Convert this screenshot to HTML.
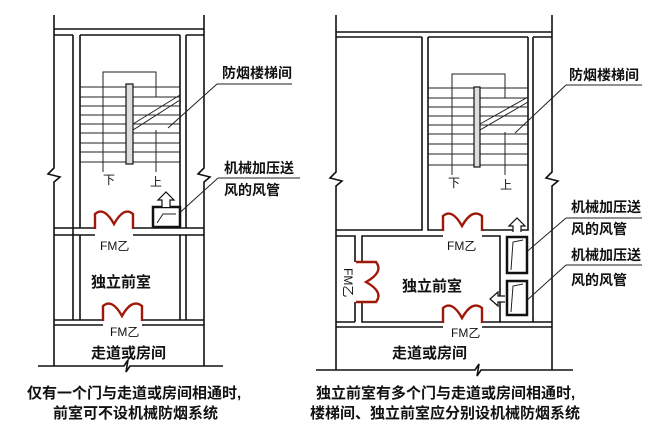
<!DOCTYPE html>
<html><head><meta charset="utf-8"><style>
html,body{margin:0;padding:0;background:#fff;}
svg{display:block}
text{font-family:"Liberation Sans","Noto Sans CJK SC",sans-serif;fill:#111;font-weight:bold}
text.n{font-weight:normal}
.l{stroke:#111;stroke-width:1.6;fill:none}
.t{stroke:#222;stroke-width:1;fill:none}
.d{stroke:#a01808;stroke-width:2.4;fill:none}
</style></head><body>
<svg width="659" height="440" viewBox="0 0 659 440" xmlns="http://www.w3.org/2000/svg">
<!-- LEFT PANEL -->
<g class="l">
<path d="M54,15 V168 l-6,6 l12,3 l-6,5 V366"/>
<path d="M204,15 V168 l-6,6 l12,3 l-6,5 V366"/>
<path d="M54,29 H204 M54,35 H73 M80,35 H180 M186,35 H204"/>
<path d="M73,35 V320 M80,35 V228 M80,235 V320 M180,35 V228 M180,235 V320 M186,35 V228 M186,235 V320"/>
<path d="M54,228 H95 M133,228 H204 M54,235 H95 M133,235 H204"/>
<path d="M54,320 H103 M142,320 H204 M54,325 H103 M142,325 H204"/>
<path d="M38,366 H124 l4,-6 l-2,12 l4,-6 H223"/>
</g>
<g class="t">
<path d="M80,87H180M80,97H180M80,106H180M80,115H180M80,124H180M80,133H180M80,143H180M80,152H180M80,162H180"/>
<path d="M103,172 V72 H156 V97 M156,130 V172"/>
<path d="M133,130 L180,100 M133,124 L180,95"/>
<path d="M217,84 H292 M217,84 L168,128 M218,178 H300 M218,178 L175,217"/>
</g>
<rect x="126" y="84" width="7" height="80" fill="#ddd" stroke="#111" stroke-width="1.2"/>
<rect x="153" y="207" width="27" height="20" fill="#fff" stroke="#111" stroke-width="2.5"/>
<path d="M157,223 L163,214 H176" class="t"/>
<path d="M162,207 V200 h-4 l8,-8 l8,8 h-4 V207" fill="#fff" stroke="#111" stroke-width="1.2"/>
<path class="d" d="M95,229 L95,214 Q104,206 114,224 Q124,206 133,214 L133,229"/>
<path class="d" d="M103,321 L103,306 Q112,298 122,316 Q132,298 142,306 L142,321"/>
<text x="103" y="184" font-size="12" class="n">下</text>
<text x="150" y="186" font-size="12" class="n">上</text>
<text x="222" y="78" font-size="14">防烟楼梯间</text>
<text x="224" y="173" font-size="14">机械加压送</text>
<text x="224" y="195" font-size="14">风的风管</text>
<text x="100" y="250" font-size="12" class="n">FM乙</text>
<text x="91" y="287" font-size="15">独立前室</text>
<text x="110" y="336" font-size="12" class="n">FM乙</text>
<text x="91" y="358" font-size="15">走道或房间</text>
<text x="27" y="398" font-size="15">仅有一个门与走道或房间相通时,</text>
<text x="53" y="418" font-size="15">前室可不设机械防烟系统</text>

<!-- RIGHT PANEL -->
<g class="l">
<path d="M336,15 V172 l-6,6 l12,3 l-6,5 V370"/>
<path d="M552,15 V172 l-6,6 l12,3 l-6,5 V370"/>
<path d="M336,32 H552 M336,37 H422 M428,37 H528 M533,37 H552"/>
<path d="M422,37 V230 H336 M428,37 V230 H443 M482,230 H528 V37 M533,37 V322"/>
<path d="M336,236 H355 V262 M355,302 V322 M362,262 V236 H443 M482,236 H500 V322 H482 M362,302 V322 H443"/>
<path d="M336,327 H443 M482,327 H552 M336,322 H355 M533,322 H552 M500,322 H533"/>
<path d="M316,370 H475 l4,-6 l-2,12 l4,-6 H573"/>
</g>
<g class="t">
<path d="M428,88H528M428,98H528M428,107H528M428,116H528M428,125H528M428,134H528M428,144H528M428,154H528M428,165H528"/>
<path d="M452,175 V74 H505 V98 M505,132 V175"/>
<path d="M480,130 L528,102 M480,124 L528,97"/>
<path d="M566,85 H642 M566,85 L515,133 M566,218 H642 M566,218 L523,255 M566,265 H642 M566,265 L525,302"/>
</g>
<rect x="474" y="87" width="6" height="80" fill="#ddd" stroke="#111" stroke-width="1.2"/>
<rect x="507" y="237" width="20" height="36" fill="#fff" stroke="#111" stroke-width="2.5"/>
<rect x="507" y="281" width="20" height="34" fill="#fff" stroke="#111" stroke-width="2.5"/>
<path d="M511,270 L513,242 L523,240 M511,312 L513,286 L523,284" class="t"/>
<path d="M513,232 V226 h-4 l8,-8 l8,8 h-4 V232" fill="#fff" stroke="#111" stroke-width="1.2"/>
<path d="M505,296 H498 v-4 l-8,7 l8,7 v-4 H505" fill="#fff" stroke="#111" stroke-width="1.2"/>
<path class="d" d="M443,231 L443,216 Q452,208 462,226 Q472,208 482,216 L482,231"/>
<path class="d" d="M443,323 L443,308 Q452,300 462,318 Q472,300 482,308 L482,323"/>
<path class="d" d="M356,262 L376,262 Q384,272 366,282 Q384,292 376,302 L356,302"/>
<text x="448" y="187" font-size="12" class="n">下</text>
<text x="500" y="189" font-size="12" class="n">上</text>
<text x="569" y="80" font-size="14">防烟楼梯间</text>
<text x="571" y="212" font-size="14">机械加压送</text>
<text x="571" y="234" font-size="14">风的风管</text>
<text x="571" y="260" font-size="14">机械加压送</text>
<text x="571" y="285" font-size="14">风的风管</text>
<text x="447" y="250" font-size="12" class="n">FM乙</text>
<text x="402" y="291" font-size="15">独立前室</text>
<text x="451" y="337" font-size="12" class="n">FM乙</text>
<text transform="translate(344,268) rotate(90)" font-size="12" class="n">FM乙</text>
<text x="392" y="358" font-size="15">走道或房间</text>
<text x="316" y="398" font-size="15">独立前室有多个门与走道或房间相通时,</text>
<text x="310" y="418" font-size="15">楼梯间、独立前室应分别设机械防烟系统</text>
</svg>
</body></html>
